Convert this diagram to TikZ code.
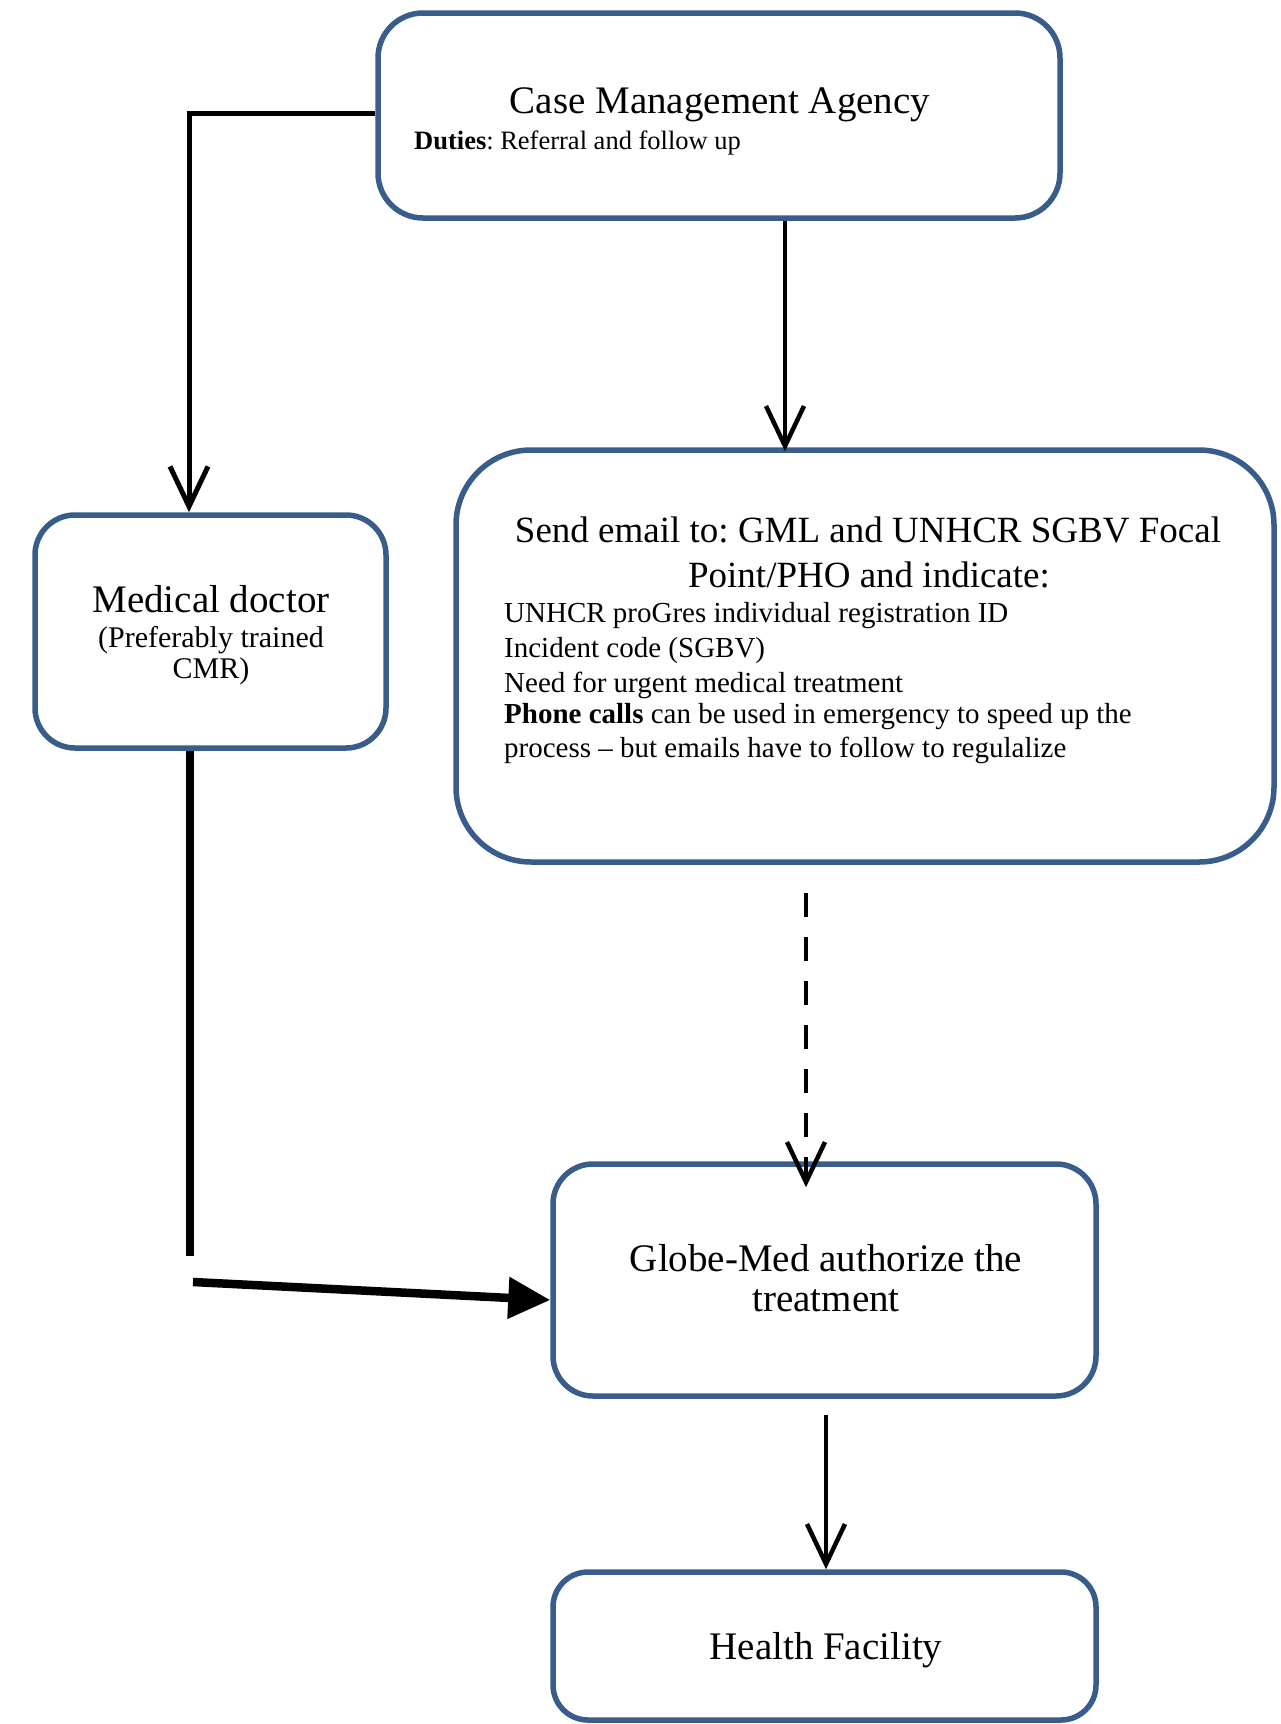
\documentclass[tikz,border=0pt]{standalone}
\usepackage{fontspec}
\setmainfont{Liberation Serif}
\usetikzlibrary{arrows.meta}
\definecolor{boxblue}{HTML}{385D8A}
\frenchspacing
\begin{document}
\begin{tikzpicture}[x=1pt,y=-1pt,
  box/.style={draw=boxblue, line width=5.5pt, rounded corners=#1, inner sep=0pt},
  box/.default=40pt,
  title/.style={inner sep=0pt, anchor=base, font=\fontsize{39}{45}\selectfont},
  body/.style={inner sep=0pt, anchor=base west, font=\fontsize{29}{35}\selectfont},
  conn/.style={line width=4.5pt, -{Straight Barb[length=40pt,width=38pt]}},
  thickconn/.style={line width=8.5pt},
]
\fill[white] (0,0) rectangle (1281,1724);
% boxes
\node[box=45pt, minimum width=682pt, minimum height=205pt] (cma) at (719,115.5) {};
\node[box, minimum width=351pt, minimum height=233pt] (md) at (210.5,631.5) {};
\node[box=75pt, minimum width=818pt, minimum height=412pt] (se) at (865,656) {};
\node[box, minimum width=543pt, minimum height=232pt] (gm) at (824.5,1280) {};
\node[box=35pt, minimum width=543pt, minimum height=148pt] (hf) at (824.5,1646) {};
% texts
\node[title] (cmat) at (720,113) {Case Management Agency};
\node[body, font=\fontsize{26.5}{30}\selectfont] (cmad) at (414,149) {\textbf{Duties}: Referral and follow up};
\node[title] (mdt) at (211,612) {Medical doctor};
\node[title, font=\fontsize{30}{34}\selectfont] (mds1) at (211,647) {(Preferably trained};
\node[title, font=\fontsize{30}{34}\selectfont] (mds2) at (211,678) {CMR)};
\node[title, font=\fontsize{37}{45}\selectfont] (set1) at (868,542) {Send email to: GML and UNHCR SGBV Focal};
\node[title, font=\fontsize{37}{45}\selectfont] (set2) at (869,587) {Point/PHO and indicate:};
\node[body] (b1) at (504,622) {UNHCR proGres individual registration ID};
\node[body] (b2) at (504,657) {Incident code (SGBV)};
\node[body] (b3) at (504,692) {Need for urgent medical treatment};
\node[body] (b4) at (504,723) {\textbf{Phone calls} can be used in emergency to speed up the};
\node[body] (b5) at (504,757) {process – but emails have to follow to regulalize};
\node[title] (gmt1) at (826,1271) {Globe-Med authorize the};
\node[title] (gmt2) at (826,1311) {treatment};
\node[title] (hft) at (826,1659) {Health Facility};
% connectors
\coordinate (k1) at (189,113);
\draw[conn, line width=5pt] (cma.west |- k1) -| (md.north -| k1);
\coordinate (k2) at (785,0);
\draw[conn, shorten >=-4pt] (cma.south -| k2) -- (se.north -| k2);
\coordinate (k3) at (806,0);
\draw[conn, dash pattern=on 24pt off 20pt, shorten <=28pt, shorten >=-26pt] (se.south -| k3) -- (gm.north -| k3);
\coordinate (k4) at (190,1256);
\draw[thickconn] (md.south -| k4) -- (k4);
\coordinate (k5) at (193,1282);
\coordinate (k6) at (555,1300);
\draw[thickconn, -{Triangle[length=42pt,width=40pt]}] (k5) -- (gm.west |- k6);
\coordinate (k7) at (826,0);
\draw[conn, shorten <=16pt] (gm.south -| k7) -- (hf.north -| k7);
\end{tikzpicture}
\end{document}
